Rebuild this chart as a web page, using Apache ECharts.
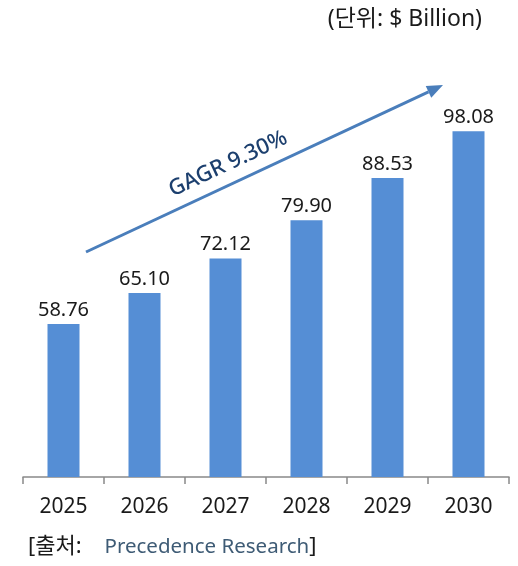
<!DOCTYPE html>
<html>
<head>
<meta charset="utf-8">
<script src="https://cdn.jsdelivr.net/npm/echarts@6/dist/echarts.min.js"></script>
<style>
  html, body { margin: 0; padding: 0; background: #fff; }
  #chart { width: 518px; height: 566px; }
</style>
</head>
<body>
<div id="chart"></div>
<script>
var years = ['2025', '2026', '2027', '2028', '2029', '2030'];
var marketSize = [58.76, 65.10, 72.12, 79.90, 88.53, 98.08];
var unitText = '(단위: $ Billion)';
var growthText = 'GAGR 9.30%';

var fontFam = '"Noto Sans", "Noto Sans CJK KR", sans-serif';

var myChart = echarts.init(document.getElementById('chart'));

// arrow geometry (decoration only)
var tail = [86, 252];
var tip = [443, 85];
var dx = tip[0] - tail[0], dy = tip[1] - tail[1];
var len = Math.sqrt(dx * dx + dy * dy);
var ux = dx / len, uy = dy / len;
var nx = -uy, ny = ux;
var base = [tip[0] - 16 * ux, tip[1] - 16 * uy];
var angle = Math.atan2(-dy, dx);

var option = {
    animation: false,
    grid: { left: 23, right: 9, top: 100, bottom: 89 },
    xAxis: {
        type: 'category',
        data: years,
        axisLine: { lineStyle: { color: '#898989', width: 1.5 } },
        axisTick: { show: true, length: 7, lineStyle: { color: '#898989', width: 1.5 } },
        axisLabel: { color: '#1a1a1a', fontSize: 21, fontFamily: fontFam, margin: 20 }
    },
    yAxis: {
        type: 'value',
        show: false,
        min: 27.6,
        max: 104.43,
        splitLine: { show: false }
    },
    series: [{
        type: 'bar',
        data: marketSize,
        barWidth: 32,
        itemStyle: { color: '#558ed5' },
        label: {
            show: true,
            position: 'top',
            distance: 4,
            color: '#1a1a1a',
            fontSize: 20,
            fontFamily: fontFam,
            formatter: function (p) { return p.value.toFixed(2); }
        }
    }],
    graphic: [
        {
            type: 'text',
            right: 36, top: 8,
            style: { text: unitText, fill: '#1a1a1a', font: '23px ' + fontFam }
        },
        {
            type: 'line',
            shape: { x1: tail[0], y1: tail[1], x2: base[0], y2: base[1] },
            style: { stroke: '#4a7ebb', lineWidth: 3 }
        },
        {
            type: 'polygon',
            shape: { points: [tip, [base[0] + 6.5 * nx, base[1] + 6.5 * ny], [base[0] - 6.5 * nx, base[1] - 6.5 * ny]] },
            style: { fill: '#4a7ebb' }
        },
        {
            type: 'text',
            x: 228, y: 164,
            rotation: angle,
            style: {
                text: growthText, fill: '#1c3f6e',
                font: '500 22px ' + fontFam,
                align: 'center', verticalAlign: 'middle'
            }
        },
        {
            type: 'text',
            left: 28, top: 536,
            style: {
                text: '{a|[출처:}    {b|Precedence Research}{a|]}',
                rich: {
                    a: { fill: '#1a1a1a', font: '22px ' + fontFam },
                    b: { fill: '#3e5b75', font: '20.5px ' + fontFam }
                },
                font: '22px ' + fontFam
            }
        }
    ]
};
myChart.setOption(option);
</script>
</body>
</html>
